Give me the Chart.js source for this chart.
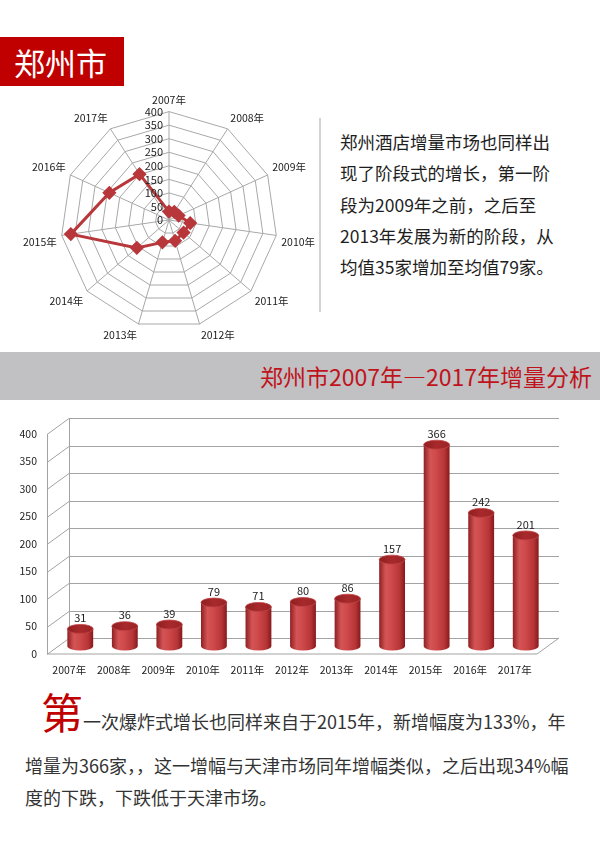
<!DOCTYPE html>
<html lang="zh-CN">
<head>
<meta charset="UTF-8">
<title>郑州市</title>
<script src="https://cdn.jsdelivr.net/npm/chart.js@4.4.1/dist/chart.umd.min.js"></script>
<style>
  body { margin: 0; width: 600px; height: 866px; background: #fff; position: relative; overflow: hidden;
         font-family: "Noto Sans CJK SC", "Noto Sans", sans-serif; }
  .abs { position: absolute; white-space: nowrap; }
  #head { left: 0; top: 37px; width: 124px; height: 49px; background: #c00000; color: #fff;
          font-size: 31px; line-height: 49px; padding-left: 14px; box-sizing: border-box; }
  #divider { left: 319px; top: 118px; width: 2px; height: 194px; background: #d4d4d4; }
  #intro { left: 340px; top: 126px; font-size: 17.5px; line-height: 31.3px; color: #1e1e1e; }
  #band { left: 0; top: 352px; width: 600px; height: 48px; background: #c1c0c2; }
  #bandTitle { right: 8px; top: 352px; height: 48px; line-height: 48px; font-size: 23px; color: #c0141c; }
  .para { font-size: 18px; color: #333; }
</style>
</head>
<body>
<div id="head" class="abs">郑州市</div>
<div class="abs" style="left:0;top:85px;width:330px;height:265px;"><canvas id="radar"></canvas></div>
<div id="divider" class="abs"></div>
<div id="intro" class="abs">郑州酒店增量市场也同样出<br>现了阶段式的增长，第一阶<br>段为2009年之前，之后至<br>2013年发展为新的阶段，从<br>均值35家增加至均值79家。</div>
<div id="band" class="abs"></div>
<div id="bandTitle" class="abs">郑州市2007年—2017年增量分析</div>
<div class="abs" style="left:0;top:410px;width:600px;height:270px;"><canvas id="bar"></canvas></div>
<div class="abs para" style="left:41px;top:688px;line-height:46px;"><span style="font-size:42px;color:#c00000;">第</span>一次爆炸式增长也同样来自于2015年，新增幅度为133%，年</div>
<div class="abs para" style="left:25px;top:749px;line-height:32px;">增量为366家，，这一增幅与天津市场同年增幅类似，之后出现34%幅<br>度的下跌，下跌低于天津市场。</div>

<script>
const years = ['2007年', '2008年', '2009年', '2010年', '2011年', '2012年', '2013年', '2014年', '2015年', '2016年', '2017年'];
const hotelIncrease = [31, 36, 39, 79, 71, 80, 86, 157, 366, 242, 201];
const valueTicks = [0, 50, 100, 150, 200, 250, 300, 350, 400];

const cjk = '"Noto Sans CJK SC", "Noto Sans", sans-serif';

// radar tick labels sit left of the top axis, not centred on it
const radarTickLabels = {
  id: 'radarTickLabels',
  afterDraw(chart) {
    const s = chart.scales.r;
    const ctx = chart.ctx;
    ctx.save();
    ctx.font = '11px ' + cjk;
    ctx.fillStyle = '#222';
    ctx.textAlign = 'right';
    ctx.textBaseline = 'middle';
    valueTicks.forEach(v => {
      const d = s.getDistanceFromCenterForValue(v);
      ctx.fillText(String(v), s.xCenter - 6, s.yCenter - d);
    });
    ctx.restore();
  }
};

new Chart(document.getElementById('radar'), {
  type: 'radar',
  data: {
    labels: years,
    datasets: [{
      data: hotelIncrease,
      borderColor: '#b8373a',
      backgroundColor: '#b8373a',
      borderWidth: 3,
      pointStyle: 'rectRot',
      pointRadius: 5,
      fill: false
    }]
  },
  options: {
    responsive: true,
    maintainAspectRatio: false,
    animation: false,
    layout: { padding: { left: 18, right: 10, top: 7, bottom: 6 } },
    plugins: { legend: { display: false }, tooltip: { enabled: false } },
    scales: {
      r: {
        min: 0, max: 400,
        ticks: { stepSize: 50, display: false },
        grid: { color: '#a8a8a8', lineWidth: 1 },
        angleLines: { color: '#a8a8a8', lineWidth: 1 },
        pointLabels: { font: { size: 10.5, family: cjk }, color: '#222', padding: 5 }
      }
    }
  },
  plugins: [radarTickLabels]
});

// fake 3D: bars sit on a middle plane, grid back wall is shifted up-right
const DX = 11, DY = 8;

const wall3d = {
  id: 'wall3d',
  beforeDatasetsDraw(chart) {
    const { ctx, chartArea: a } = chart;
    const y = chart.scales.y;
    ctx.save();
    ctx.strokeStyle = '#a3a3a3';
    ctx.lineWidth = 1;
    valueTicks.forEach(v => {
      const py = Math.round(y.getPixelForValue(v)) + 0.5;
      ctx.beginPath();
      ctx.moveTo(a.left - DX, py + DY);
      ctx.lineTo(a.left + DX, py - DY);
      ctx.lineTo(a.right + DX, py - DY);
      ctx.stroke();
    });
    const top = y.getPixelForValue(400), base = y.getPixelForValue(0);
    ctx.beginPath();
    ctx.moveTo(a.left - DX + 0.5, top + DY);
    ctx.lineTo(a.left - DX + 0.5, base + DY);
    ctx.lineTo(a.right - DX, base + DY);
    ctx.lineTo(a.right + DX, base - DY);
    ctx.moveTo(a.left + DX + 0.5, top - DY);
    ctx.lineTo(a.left + DX + 0.5, base - DY);
    ctx.stroke();
    ctx.restore();
  },
  afterDatasetsDraw(chart) {
    const { ctx, chartArea: a } = chart;
    const y = chart.scales.y;
    const meta = chart.getDatasetMeta(0);
    ctx.save();
    meta.data.forEach((el, i) => {
      const w = el.width, rx = w / 2, ry = 4.5;
      // bottom rounding
      ctx.fillStyle = bodyGradient(ctx, el.x, w);
      ctx.beginPath();
      ctx.ellipse(el.x, el.base, rx, ry, 0, 0, Math.PI);
      ctx.fill();
      // top cap
      const tg = ctx.createLinearGradient(el.x - rx, 0, el.x + rx, 0);
      tg.addColorStop(0, '#8f1f21');
      tg.addColorStop(0.5, '#a8292b');
      tg.addColorStop(1, '#9a2426');
      ctx.fillStyle = tg;
      ctx.strokeStyle = '#c24446';
      ctx.lineWidth = 0.8;
      ctx.beginPath();
      ctx.ellipse(el.x, el.y, rx, ry, 0, 0, Math.PI * 2);
      ctx.fill();
      ctx.stroke();
      // value
      ctx.fillStyle = '#222';
      ctx.font = '11px ' + cjk;
      ctx.textAlign = 'center';
      ctx.textBaseline = 'bottom';
      ctx.fillText(String(hotelIncrease[i]), el.x, el.y - ry - 1);
    });
    // axis labels on the front plane
    ctx.fillStyle = '#222';
    ctx.font = '10.5px ' + cjk;
    ctx.textAlign = 'right';
    ctx.textBaseline = 'middle';
    valueTicks.forEach(v => {
      ctx.fillText(String(v), a.left - DX - 10, y.getPixelForValue(v) + DY);
    });
    ctx.textAlign = 'center';
    ctx.textBaseline = 'middle';
    meta.data.forEach((el, i) => {
      ctx.fillText(years[i], el.x - DX, a.bottom + 24);
    });
    ctx.restore();
  }
};

function bodyGradient(ctx, x, w) {
  const g = ctx.createLinearGradient(x - w / 2, 0, x + w / 2, 0);
  g.addColorStop(0, '#8e2022');
  g.addColorStop(0.25, '#d45455');
  g.addColorStop(0.45, '#cf4b4c');
  g.addColorStop(0.8, '#b83537');
  g.addColorStop(1, '#85191b');
  return g;
}

new Chart(document.getElementById('bar'), {
  type: 'bar',
  data: {
    labels: years,
    datasets: [{
      data: hotelIncrease,
      barPercentage: 0.58,
      categoryPercentage: 1,
      borderWidth: 0,
      backgroundColor: c => {
        const ch = c.chart;
        if (!ch.chartArea) return '#c0393b';
        const xs = ch.scales.x;
        const w = (xs.width / years.length) * 0.58;
        return bodyGradient(ch.ctx, xs.getPixelForValue(c.dataIndex), w);
      }
    }]
  },
  options: {
    responsive: true,
    maintainAspectRatio: false,
    animation: false,
    layout: { padding: { left: 58, right: 52, top: 16, bottom: 34 } },
    plugins: { legend: { display: false }, tooltip: { enabled: false } },
    scales: {
      x: { display: false },
      y: { display: false, min: 0, max: 400 }
    }
  },
  plugins: [wall3d]
});
</script>
</body>
</html>
